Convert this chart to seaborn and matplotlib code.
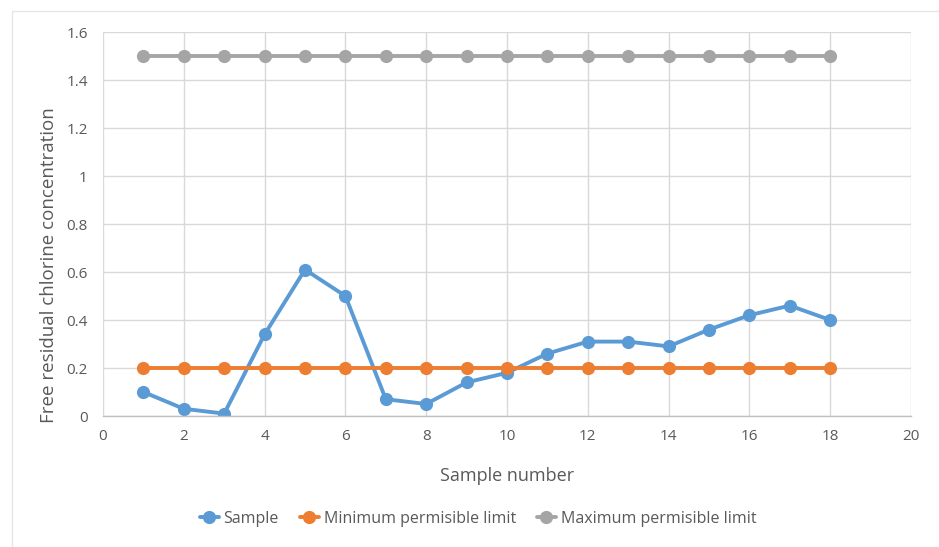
import matplotlib
matplotlib.use("Agg")
import matplotlib.pyplot as plt
from matplotlib.patches import Rectangle
import seaborn as sns
import pandas as pd

# Free residual chlorine per sample, with the permissible band limits
sample_number = list(range(1, 19))
sample_values = [0.10, 0.03, 0.01, 0.34, 0.61, 0.50, 0.07, 0.05, 0.14,
                 0.18, 0.26, 0.31, 0.31, 0.29, 0.36, 0.42, 0.46, 0.40]
min_limit = [0.2] * 18
max_limit = [1.5] * 18
series_names = ["Sample", "Minimum permisible limit", "Maximum permisible limit"]
series_colors = ["#5B9BD5", "#ED7D31", "#A5A5A5"]

df = pd.concat([
    pd.DataFrame({"x": sample_number, "y": vals, "series": name})
    for name, vals in zip(series_names, [sample_values, min_limit, max_limit])
], ignore_index=True)

sns.set_theme(style="white")
plt.rcParams["font.family"] = ["Open Sans", "DejaVu Sans"]

fig = plt.figure(figsize=(9.39, 5.47), dpi=100)
ax = fig.add_axes([103 / 939, 1 - 416 / 547, (911 - 103) / 939, (416 - 32) / 547])

# light outer chart frame
fig.patches.append(Rectangle((12 / 939, -0.05), 1.0, 1 - 11 / 547 + 0.05,
                             transform=fig.transFigure, fill=False,
                             edgecolor="#E6E6E6", linewidth=1.0, zorder=0))

sns.lineplot(data=df, x="x", y="y", hue="series", hue_order=series_names,
             palette=series_colors, marker="o", markersize=9.5,
             markeredgewidth=0, linewidth=2.8, ax=ax, legend=False)

ax.set_xlim(0, 20)
ax.set_ylim(0, 1.6)
ax.set_xticks(range(0, 21, 2))
ax.set_yticks([0, 0.2, 0.4, 0.6, 0.8, 1.0, 1.2, 1.4, 1.6])
ax.set_yticklabels(["0", "0.2", "0.4", "0.6", "0.8", "1", "1.2", "1.4", "1.6"])
ax.grid(True, color="#D9D9D9", linewidth=1.0)
ax.set_axisbelow(True)
for side in ["top", "right", "left"]:
    ax.spines[side].set_visible(False)
ax.spines["bottom"].set_color("#BFBFBF")
ax.spines["bottom"].set_linewidth(1.0)
ax.tick_params(axis="x", length=0, labelsize=11, colors="#595959", pad=9)
ax.tick_params(axis="y", length=0, labelsize=11, colors="#595959", pad=11)
ax.set_xlabel("Sample number", fontsize=13, color="#595959", labelpad=17)
ax.set_ylabel("Free residual chlorine concentration", fontsize=13.5,
              color="#595959")
ax.yaxis.set_label_coords(-0.056, 0.393)

handles = [plt.Line2D([0], [0], color=c, marker="o", markersize=9.5,
                      markeredgewidth=0, linewidth=2.8) for c in series_colors]
fig.legend(handles, series_names, loc="center", bbox_to_anchor=(0.509, 1 - 519 / 547),
           ncol=3, frameon=False, fontsize=11.5, labelcolor="#595959",
           handlelength=1.2, handletextpad=0.3, columnspacing=1.3)

fig.savefig("out.png", dpi=100)
